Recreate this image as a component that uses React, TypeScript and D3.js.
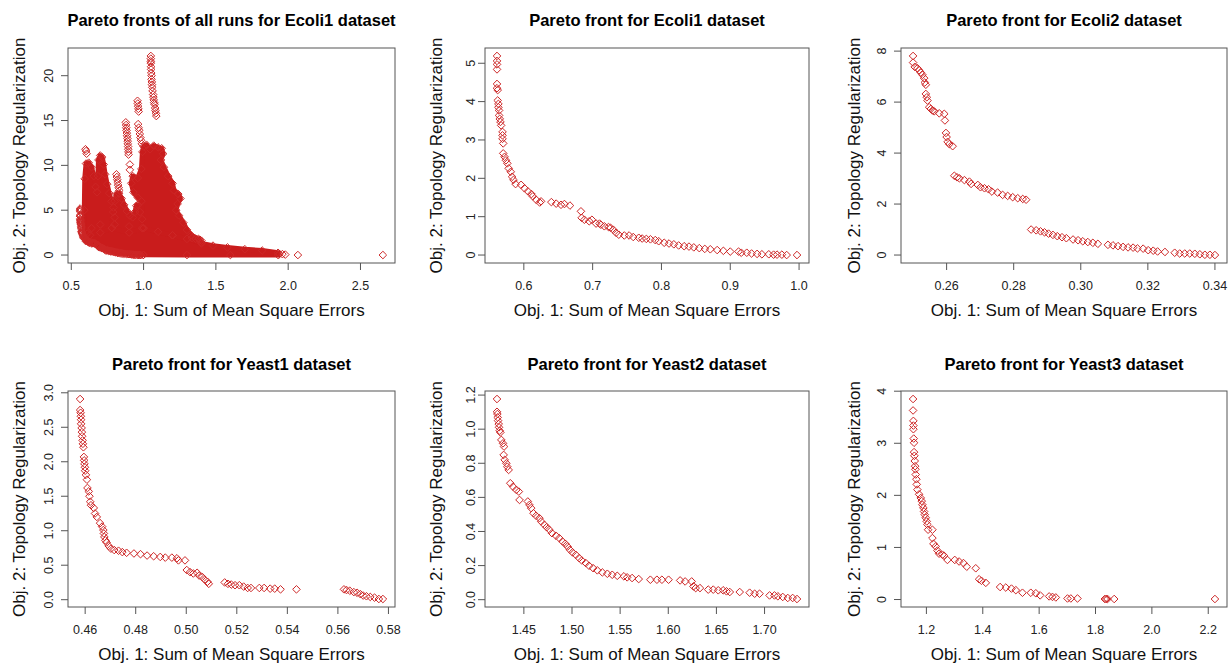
import React from 'react';
import * as d3 from 'd3';

type Pt = [number, number];

// best pareto front, Ecoli1 (also part of the all-runs cloud)
const ecoli1Front: Pt[] = [
  [0.561, 5.19], [0.561, 5.06], [0.561, 4.97], [0.561, 4.84], [0.561, 4.46], [0.561, 4.35], [0.562, 4.30],
  [0.562, 4.03], [0.563, 3.94], [0.563, 3.85], [0.564, 3.77], [0.564, 3.64], [0.565, 3.55], [0.566, 3.47],
  [0.567, 3.38], [0.569, 3.21], [0.569, 3.12], [0.569, 3.03], [0.570, 2.91], [0.570, 2.65], [0.572, 2.56],
  [0.574, 2.47], [0.576, 2.39], [0.578, 2.26], [0.581, 2.17], [0.583, 2.04], [0.585, 1.96], [0.588, 1.85],
  [0.596, 1.83], [0.601, 1.74], [0.606, 1.66], [0.611, 1.59], [0.613, 1.53], [0.618, 1.44], [0.623, 1.37],
  [0.625, 1.40], [0.640, 1.38], [0.647, 1.34], [0.654, 1.31], [0.659, 1.33], [0.667, 1.29], [0.683, 1.14],
  [0.684, 0.97], [0.688, 0.92], [0.695, 0.88], [0.699, 0.92], [0.705, 0.82], [0.710, 0.82], [0.712, 0.79],
  [0.717, 0.75], [0.723, 0.73], [0.726, 0.71], [0.730, 0.66], [0.734, 0.58], [0.738, 0.53], [0.746, 0.51],
  [0.753, 0.51], [0.759, 0.47], [0.767, 0.45], [0.772, 0.43], [0.778, 0.42], [0.784, 0.41], [0.791, 0.39],
  [0.796, 0.36], [0.804, 0.32], [0.811, 0.30], [0.818, 0.28], [0.825, 0.25], [0.833, 0.23], [0.840, 0.22],
  [0.847, 0.20], [0.855, 0.18], [0.863, 0.16], [0.871, 0.15], [0.881, 0.13], [0.890, 0.11], [0.900, 0.09],
  [0.912, 0.09], [0.916, 0.06], [0.924, 0.06], [0.931, 0.04], [0.939, 0.03], [0.946, 0.02], [0.956, 0.02],
  [0.963, 0.01], [0.968, 0.01], [0.975, 0.01], [0.982, 0.00], [0.997, 0.00],
];

// all runs, Ecoli1: the solid mass is too dense to pick points, kept as outlines
const ecoli1RunsDense: Pt[][] = [
  [[0.600, 1.55], [0.640, 1.30], [0.690, 0.95], [0.750, 0.55], [0.820, 0.25], [0.900, 0.10], [1.000, 0.02],
    [1.300, 0.0], [1.600, 0.0], [1.930, 0.0], [1.930, 0.25], [1.820, 0.50], [1.700, 0.65], [1.580, 0.85],
    [1.480, 1.05], [1.400, 1.30], [1.300, 1.80], [1.200, 2.20], [1.100, 2.60], [1.000, 3.00], [0.900, 3.20],
    [0.800, 3.40], [0.700, 3.40], [0.640, 3.00], [0.610, 2.40]],
  [[0.592, 2.0], [0.590, 5.0], [0.593, 8.5], [0.602, 10.2], [0.620, 10.3], [0.640, 9.8], [0.655, 8.8],
    [0.668, 7.6], [0.678, 7.0], [0.684, 8.8], [0.688, 10.6], [0.700, 11.1], [0.714, 10.9], [0.724, 10.1],
    [0.734, 9.0], [0.748, 7.9], [0.762, 6.9], [0.778, 6.0], [0.792, 5.3], [0.800, 4.2], [0.780, 3.0],
    [0.700, 2.5], [0.630, 2.2]],
  [[0.780, 3.0], [0.790, 4.8], [0.800, 6.0], [0.812, 6.8], [0.830, 6.9], [0.848, 6.3], [0.865, 5.6],
    [0.885, 4.9], [0.905, 4.4], [0.925, 4.2], [0.940, 4.8], [0.950, 5.5], [0.962, 5.6], [0.975, 4.8],
    [0.990, 4.0], [1.000, 3.0], [0.900, 2.5]],
  [[0.990, 3.0], [0.985, 6.0], [0.960, 6.4], [0.930, 7.0], [0.915, 8.0], [0.925, 8.8], [0.960, 8.6],
    [0.985, 9.6], [0.992, 11.5], [1.000, 12.1], [1.020, 12.3], [1.045, 11.8], [1.070, 12.2], [1.100, 12.0],
    [1.125, 11.9], [1.135, 11.3], [1.120, 10.6], [1.140, 9.8], [1.170, 8.8], [1.200, 8.0], [1.210, 7.2],
    [1.240, 6.8], [1.255, 6.3], [1.235, 5.7], [1.225, 5.0], [1.245, 4.4], [1.275, 3.6], [1.300, 2.8],
    [1.330, 2.2], [1.380, 1.8], [1.400, 1.4], [1.200, 2.2]],
];

// all runs, Ecoli1: separate points (spikes and stragglers)
const ecoli1RunsSparse: Pt[] = [
  [1.050, 22.2], [1.050, 21.9], [1.050, 21.6], [1.050, 21.4], [1.052, 21.0], [1.052, 20.7], [1.053, 20.3],
  [1.055, 20.0], [1.055, 19.6], [1.057, 19.3], [1.058, 19.0], [1.060, 18.7], [1.062, 18.3], [1.066, 17.9],
  [1.068, 17.6], [1.070, 17.3], [1.073, 17.0], [1.076, 16.8], [1.080, 16.4], [1.082, 16.1], [1.085, 15.8],
  [1.088, 15.5],
  [0.958, 17.2], [0.960, 16.9], [0.962, 16.6], [0.964, 16.3], [0.966, 16.0],
  [0.962, 14.6], [0.966, 14.2], [0.970, 13.9], [0.974, 13.5], [0.978, 13.1], [0.982, 12.8], [0.988, 12.4],
  [0.877, 14.8], [0.879, 14.5], [0.880, 14.2], [0.882, 13.9], [0.884, 13.6], [0.886, 13.3], [0.888, 13.0],
  [0.890, 12.7], [0.891, 12.4], [0.893, 12.1], [0.894, 11.8], [0.895, 11.5], [0.896, 11.2],
  [0.905, 10.1], [0.905, 9.5],
  [0.598, 11.8], [0.602, 11.6], [0.606, 11.3],
  [0.812, 9.0], [0.815, 8.7], [0.818, 8.4], [0.821, 8.1], [0.824, 7.8], [0.828, 7.5], [0.832, 7.2],
  [1.335, 1.9], [1.360, 1.8], [1.390, 1.7], [1.400, 1.6],
  [1.940, 0.12], [1.960, 0.10], [1.980, 0.05], [2.067, 0.0], [2.655, 0.0],
];

const ecoli2Front: Pt[] = [
  [0.2500, 7.81], [0.2500, 7.55], [0.2505, 7.38], [0.2513, 7.33], [0.2518, 7.25], [0.2523, 7.16], [0.2528, 7.07],
  [0.2533, 6.94], [0.2535, 6.77], [0.2538, 6.68], [0.2538, 6.32], [0.2541, 6.19], [0.2543, 6.06], [0.2548, 5.80],
  [0.2553, 5.73], [0.2558, 5.67], [0.2563, 5.64], [0.2578, 5.56], [0.2593, 5.54], [0.2595, 5.28], [0.2598, 4.79],
  [0.2600, 4.63], [0.2603, 4.44], [0.2608, 4.35], [0.2618, 4.27], [0.2623, 3.11], [0.2631, 3.05], [0.2638, 3.01],
  [0.2653, 2.94], [0.2668, 2.88], [0.2673, 2.79], [0.2693, 2.75], [0.2701, 2.66], [0.2713, 2.62], [0.2725, 2.58],
  [0.2735, 2.49], [0.2752, 2.45], [0.2767, 2.36], [0.2782, 2.32], [0.2797, 2.27], [0.2812, 2.23], [0.2827, 2.20],
  [0.2837, 2.17], [0.2852, 1.00], [0.2867, 0.97], [0.2880, 0.93], [0.2892, 0.89], [0.2904, 0.84], [0.2917, 0.79],
  [0.2930, 0.74], [0.2944, 0.70], [0.2957, 0.66], [0.2977, 0.61], [0.2992, 0.58], [0.3006, 0.54], [0.3021, 0.51],
  [0.3036, 0.48], [0.3051, 0.44], [0.3081, 0.40], [0.3096, 0.38], [0.3111, 0.35], [0.3126, 0.32], [0.3141, 0.30],
  [0.3156, 0.29], [0.3169, 0.26], [0.3186, 0.25], [0.3201, 0.19], [0.3216, 0.17], [0.3229, 0.14], [0.3251, 0.12],
  [0.3280, 0.09], [0.3295, 0.06], [0.3310, 0.06], [0.3325, 0.06], [0.3340, 0.05], [0.3355, 0.03], [0.3370, 0.01],
  [0.3385, 0.01], [0.3400, 0.00],
];

const yeast1Front: Pt[] = [
  [0.4580, 2.91], [0.4580, 2.75], [0.4582, 2.71], [0.4583, 2.66], [0.4584, 2.61], [0.4584, 2.55], [0.4586, 2.49],
  [0.4587, 2.43], [0.4588, 2.37], [0.4590, 2.31], [0.4591, 2.26], [0.4593, 2.21], [0.4595, 2.07], [0.4596, 2.02],
  [0.4597, 1.97], [0.4599, 1.92], [0.4600, 1.87], [0.4603, 1.81], [0.4607, 1.74], [0.4609, 1.62], [0.4614, 1.57],
  [0.4617, 1.50], [0.4620, 1.42], [0.4623, 1.37], [0.4634, 1.33], [0.4639, 1.25], [0.4646, 1.20], [0.4659, 1.11],
  [0.4667, 1.06], [0.4672, 1.01], [0.4674, 0.96], [0.4676, 0.91], [0.4680, 0.86], [0.4685, 0.83], [0.4693, 0.78],
  [0.4702, 0.74], [0.4715, 0.72], [0.4732, 0.71], [0.4747, 0.69], [0.4764, 0.68], [0.4793, 0.67], [0.4819, 0.66],
  [0.4845, 0.64], [0.4871, 0.63], [0.4897, 0.62], [0.4917, 0.61], [0.4943, 0.61], [0.4963, 0.60], [0.4969, 0.57],
  [0.4995, 0.57], [0.5002, 0.43], [0.5015, 0.40], [0.5028, 0.38], [0.5043, 0.39], [0.5051, 0.35], [0.5063, 0.33],
  [0.5073, 0.29], [0.5084, 0.26], [0.5089, 0.23], [0.5152, 0.25], [0.5165, 0.23], [0.5178, 0.22], [0.5193, 0.21],
  [0.5210, 0.21], [0.5227, 0.19], [0.5243, 0.17], [0.5256, 0.17], [0.5289, 0.17], [0.5308, 0.17], [0.5332, 0.16],
  [0.5350, 0.16], [0.5373, 0.15], [0.5436, 0.15], [0.5624, 0.15], [0.5634, 0.14], [0.5647, 0.13], [0.5663, 0.11],
  [0.5676, 0.10], [0.5689, 0.08], [0.5700, 0.06], [0.5713, 0.05], [0.5728, 0.04], [0.5745, 0.03], [0.5762, 0.01],
  [0.5778, 0.01],
];

const yeast2Front: Pt[] = [
  [1.4221, 1.177], [1.4221, 1.102], [1.4225, 1.089], [1.4228, 1.069], [1.4232, 1.050], [1.4239, 1.030],
  [1.4242, 1.011], [1.4249, 0.991], [1.4256, 0.981], [1.4266, 0.937], [1.4283, 0.917], [1.4294, 0.898],
  [1.4290, 0.849], [1.4301, 0.820], [1.4318, 0.800], [1.4328, 0.780], [1.4342, 0.761], [1.4359, 0.683],
  [1.4387, 0.663], [1.4421, 0.644], [1.4448, 0.634], [1.4455, 0.585], [1.4541, 0.576], [1.4558, 0.556],
  [1.4576, 0.537], [1.4600, 0.507], [1.4627, 0.492], [1.4662, 0.478], [1.4679, 0.459], [1.4713, 0.439],
  [1.4737, 0.425], [1.4765, 0.410], [1.4792, 0.390], [1.4834, 0.375], [1.4868, 0.361], [1.4902, 0.341],
  [1.4930, 0.328], [1.4954, 0.312], [1.4978, 0.293], [1.5006, 0.277], [1.5040, 0.263], [1.5074, 0.244],
  [1.5102, 0.230], [1.5143, 0.215], [1.5177, 0.199], [1.5219, 0.185], [1.5263, 0.172], [1.5315, 0.160],
  [1.5367, 0.152], [1.5418, 0.146], [1.5470, 0.140], [1.5539, 0.137], [1.5573, 0.131], [1.5624, 0.127],
  [1.5693, 0.121], [1.5814, 0.117], [1.5882, 0.117], [1.5934, 0.117], [1.6003, 0.117], [1.6123, 0.113],
  [1.6175, 0.107], [1.6243, 0.107], [1.6261, 0.078], [1.6285, 0.068], [1.6329, 0.068], [1.6415, 0.059],
  [1.6467, 0.059], [1.6519, 0.055], [1.6570, 0.055], [1.6605, 0.049], [1.6639, 0.045], [1.6742, 0.045],
  [1.6845, 0.041], [1.6897, 0.035], [1.6948, 0.035], [1.7052, 0.025], [1.7103, 0.025], [1.7138, 0.020],
  [1.7189, 0.016], [1.7241, 0.010], [1.7292, 0.010], [1.7337, 0.004],
];

const yeast3Front: Pt[] = [
  [1.1527, 3.85], [1.1527, 3.63], [1.1538, 3.43], [1.1538, 3.34], [1.1538, 3.27], [1.1550, 3.09], [1.1562, 3.01],
  [1.1562, 2.83], [1.1574, 2.76], [1.1586, 2.66], [1.1598, 2.56], [1.1609, 2.50], [1.1621, 2.40], [1.1645, 2.31],
  [1.1657, 2.21], [1.1680, 2.11], [1.1740, 2.02], [1.1799, 1.95], [1.1834, 1.89], [1.1858, 1.82], [1.1893, 1.76],
  [1.1917, 1.69], [1.1941, 1.63], [1.1976, 1.57], [1.2012, 1.50], [1.2036, 1.44], [1.2059, 1.34], [1.2213, 1.34],
  [1.2213, 1.18], [1.2249, 1.07], [1.2331, 1.02], [1.2391, 0.94], [1.2450, 0.88], [1.2568, 0.86], [1.2627, 0.84],
  [1.2746, 0.76], [1.3006, 0.76], [1.3160, 0.73], [1.3314, 0.70], [1.3432, 0.63], [1.3751, 0.60], [1.3870, 0.39],
  [1.3953, 0.36], [1.4107, 0.32], [1.4615, 0.24], [1.4817, 0.23], [1.5018, 0.21], [1.5172, 0.18], [1.5408, 0.13],
  [1.5704, 0.13], [1.5882, 0.12], [1.6036, 0.08], [1.6355, 0.06], [1.6473, 0.05], [1.6592, 0.04], [1.7006, 0.02],
  [1.7124, 0.02], [1.7361, 0.02], [1.8331, 0.01], [1.8379, 0.01], [1.8426, 0.01], [1.8663, 0.01], [2.2237, 0.01],
];

// tick values per panel
const allRunsXTicks = [0.5, 1.0, 1.5, 2.0, 2.5];
const allRunsYTicks = [0, 5, 10, 15, 20];
const ecoli1XTicks = [0.6, 0.7, 0.8, 0.9, 1.0];
const ecoli1YTicks = [0, 1, 2, 3, 4, 5];
const ecoli2XTicks = [0.26, 0.28, 0.30, 0.32, 0.34];
const ecoli2YTicks = [0, 2, 4, 6, 8];
const yeast1XTicks = [0.46, 0.48, 0.50, 0.52, 0.54, 0.56, 0.58];
const yeast1YTicks = [0, 0.5, 1.0, 1.5, 2.0, 2.5, 3.0];
const yeast2XTicks = [1.45, 1.50, 1.55, 1.60, 1.65, 1.70];
const yeast2YTicks = [0, 0.2, 0.4, 0.6, 0.8, 1.0, 1.2];
const yeast3XTicks = [1.2, 1.4, 1.6, 1.8, 2.0, 2.2];
const yeast3YTicks = [0, 1, 2, 3, 4];

const X_LABEL = 'Obj. 1: Sum of Mean Square Errors';
const Y_LABEL = 'Obj. 2: Topology Regularization';
const RED = '#cd2626';
const FONT = '"Liberation Sans", Arial, Helvetica, sans-serif';

const COLS = [
  { x0: 68, x1: 395, yTickX: 53, yLabX: 25 },
  { x0: 485, x1: 809, yTickX: 475, yLabX: 442 },
  { x0: 901, x1: 1227, yTickX: 886, yLabX: 860 },
];
const ROWS = [
  { y0: 48, y1: 263, titleY: 26, xTickY: 290, xLabY: 316 },
  { y0: 391, y1: 607, titleY: 370, xTickY: 634, xLabY: 660 },
];

const PANELS = [
  { title: 'Pareto fronts of all runs for Ecoli1 dataset', col: 0, row: 0, pts: [...ecoli1Front, ...ecoli1RunsSparse],
    dense: ecoli1RunsDense, xt: allRunsXTicks, yt: allRunsYTicks, xf: '.1f', yf: 'd' },
  { title: 'Pareto front for Ecoli1 dataset', col: 1, row: 0, pts: ecoli1Front, dense: [],
    xt: ecoli1XTicks, yt: ecoli1YTicks, xf: '.1f', yf: 'd' },
  { title: 'Pareto front for Ecoli2 dataset', col: 2, row: 0, pts: ecoli2Front, dense: [],
    xt: ecoli2XTicks, yt: ecoli2YTicks, xf: '.2f', yf: 'd' },
  { title: 'Pareto front for Yeast1 dataset', col: 0, row: 1, pts: yeast1Front, dense: [],
    xt: yeast1XTicks, yt: yeast1YTicks, xf: '.2f', yf: '.1f' },
  { title: 'Pareto front for Yeast2 dataset', col: 1, row: 1, pts: yeast2Front, dense: [],
    xt: yeast2XTicks, yt: yeast2YTicks, xf: '.2f', yf: '.1f' },
  { title: 'Pareto front for Yeast3 dataset', col: 2, row: 1, pts: yeast3Front, dense: [],
    xt: yeast3XTicks, yt: yeast3YTicks, xf: '.1f', yf: 'd' },
];

// R style axis range: data extent widened by 4% each side
function rRange(vals: number[]): [number, number] {
  const [lo, hi] = d3.extent(vals) as [number, number];
  const pad = (hi - lo) * 0.04;
  return [lo - pad, hi + pad];
}

const R = 3.8;
const diamond = `M0,${-R}L${R},0L0,${R}L${-R},0Z`;

function Panel({ p }: { p: typeof PANELS[number] }) {
  const c = COLS[p.col];
  const r = ROWS[p.row];
  const edge = p.dense.flat();
  const all = [...p.pts, ...edge];
  const x = d3.scaleLinear().domain(rRange(all.map(d => d[0]))).range([c.x0, c.x1]);
  const y = d3.scaleLinear().domain(rRange(all.map(d => d[1]))).range([r.y1, r.y0]);
  const fx = d3.format(p.xf);
  const fy = d3.format(p.yf);
  const line = d3.line<Pt>().x(d => x(d[0])).y(d => y(d[1])).curve(d3.curveLinearClosed);
  const cx = (c.x0 + c.x1) / 2;
  const cy = (r.y0 + r.y1) / 2;

  return (
    <g fontFamily={FONT}>
      <text x={cx} y={r.titleY} textAnchor="middle" fontWeight="bold" fontSize={16.5} fill="#000">{p.title}</text>

      {p.dense.map((poly, i) => (
        <path key={'d' + i} d={line(poly) || ''} fill="#c91c1c" stroke="#c91c1c" strokeWidth={5} strokeLinejoin="round" />
      ))}
      {[...edge, ...p.pts].map((d, i) => (
        <path key={i} d={diamond} transform={`translate(${x(d[0])},${y(d[1])})`} fill="none" stroke={RED} strokeWidth={1} />
      ))}

      <rect x={c.x0} y={r.y0} width={c.x1 - c.x0} height={r.y1 - r.y0} fill="none" stroke="#555" strokeWidth={1} />

      {p.xt.map(t => (
        <g key={'x' + t}>
          <line x1={x(t)} x2={x(t)} y1={r.y1} y2={r.y1 + 7} stroke="#555" />
          <text x={x(t)} y={r.xTickY} textAnchor="middle" fontSize={12.5} fill="#222">{fx(t)}</text>
        </g>
      ))}
      {p.yt.map(t => (
        <g key={'y' + t}>
          <line x1={c.x0 - 7} x2={c.x0} y1={y(t)} y2={y(t)} stroke="#555" />
          <text transform={`translate(${c.yTickX},${y(t)}) rotate(-90)`} textAnchor="middle" fontSize={12.5} fill="#222">{fy(t)}</text>
        </g>
      ))}

      <text x={cx} y={r.xLabY} textAnchor="middle" fontSize={17} fill="#111">{X_LABEL}</text>
      <text transform={`translate(${c.yLabX},${cy}) rotate(-90)`} textAnchor="middle" fontSize={17} fill="#111">{Y_LABEL}</text>
    </g>
  );
}

export default function App() {
  return (
    <svg width={1228} height={664} style={{ position: 'absolute', left: 0, top: 0, background: '#fff' }}>
      <rect width={1228} height={664} fill="#fff" />
      {PANELS.map(p => <Panel key={p.title} p={p} />)}
    </svg>
  );
}
